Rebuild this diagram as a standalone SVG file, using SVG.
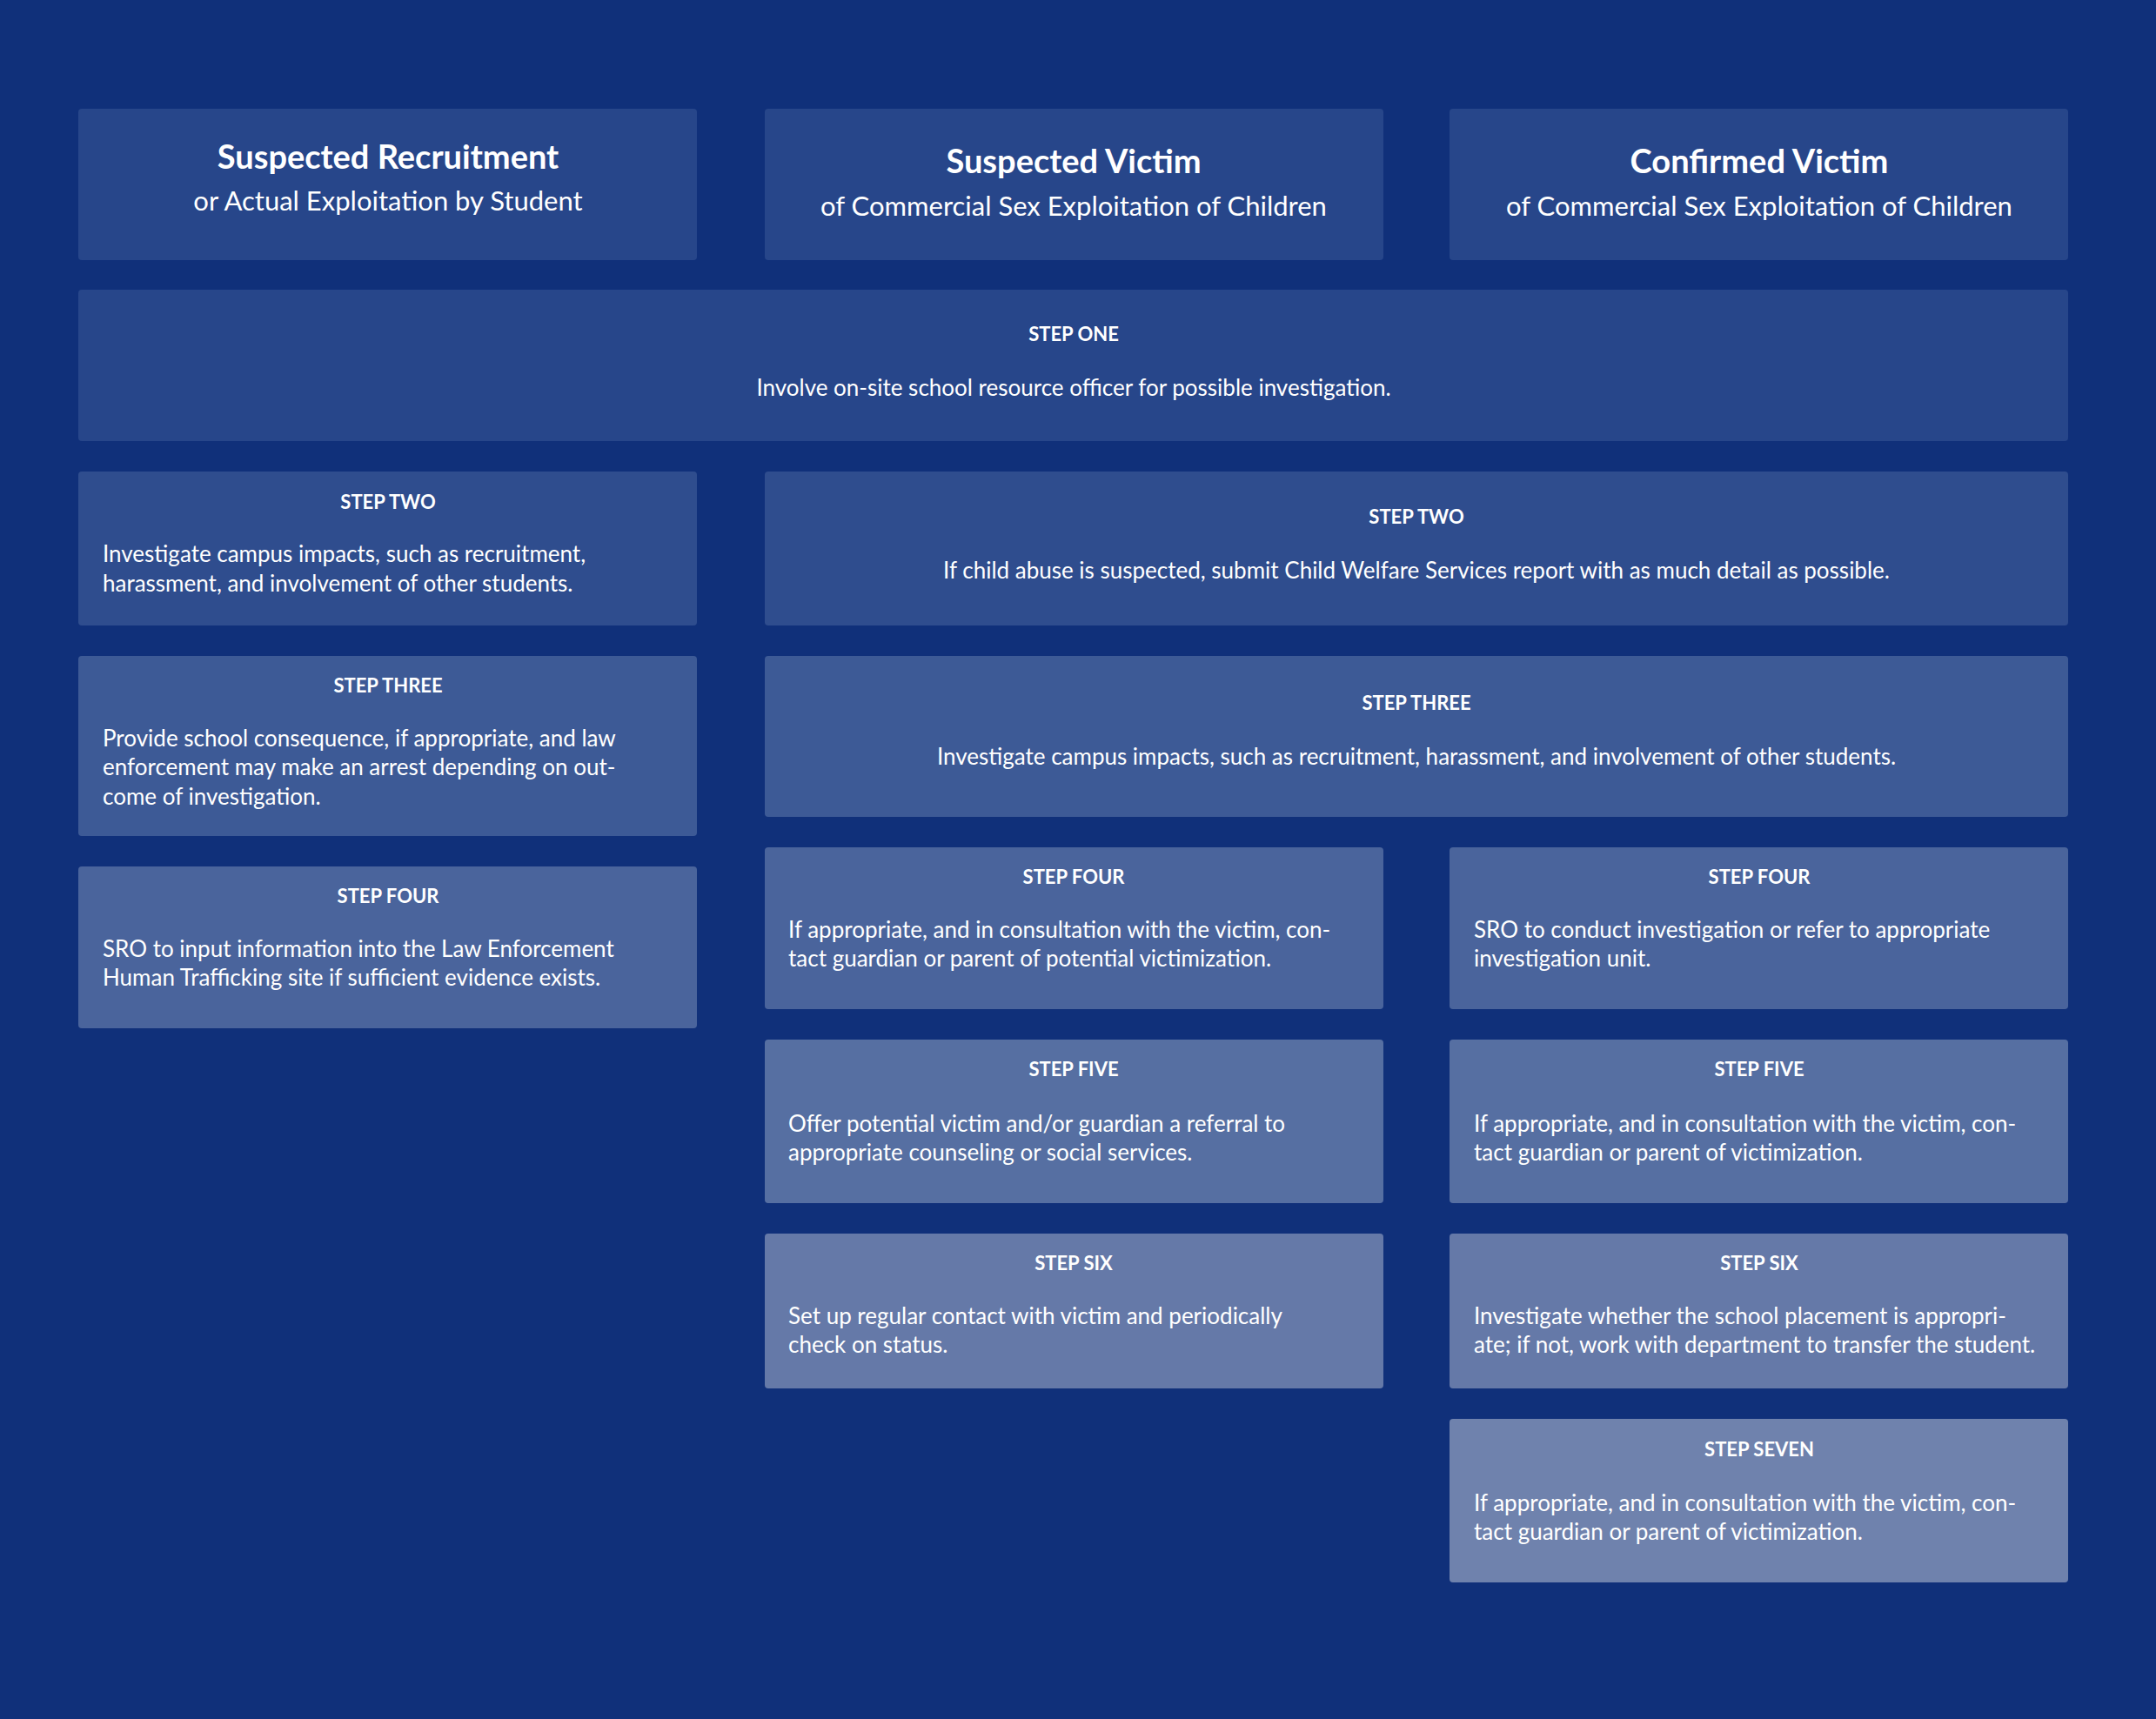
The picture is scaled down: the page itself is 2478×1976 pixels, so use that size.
<svg xmlns="http://www.w3.org/2000/svg" width="2478" height="1976" viewBox="0 0 2478 1976">
<style>
text{font-family:"Lato","Liberation Sans",sans-serif;fill:#fff}
.t{font-size:38px;font-weight:bold;text-anchor:middle}
.s{font-size:31px;text-anchor:middle}
.l{font-size:22px;font-weight:bold;text-anchor:middle}
.b{font-size:26px}
.c{text-anchor:middle}
.h{fill:#27468a}.r2{fill:#2f4d8e}.r3{fill:#3d5a96}.r4{fill:#4a649c}.r5{fill:#566fa2}.r6{fill:#6579a8}.r7{fill:#6f82ad}
</style>
<rect width="2478" height="1976" fill="#10307a"/>
<g id="hdr1"><rect class="h" x="90" y="125" width="711" height="174" rx="4"/><text class="t" x="446" y="194">Suspected Recruitment</text><text class="s" x="446" y="242">or Actual Exploitation by Student</text></g>
<g id="hdr2"><rect class="h" x="879" y="125" width="711" height="174" rx="4"/><text class="t" x="1234" y="199">Suspected Victim</text><text class="s" x="1234" y="248">of Commercial Sex Exploitation of Children</text></g>
<g id="hdr3"><rect class="h" x="1666" y="125" width="711" height="174" rx="4"/><text class="t" x="2022" y="199">Confirmed Victim</text><text class="s" x="2022" y="248">of Commercial Sex Exploitation of Children</text></g>
<g id="step1"><rect class="h" x="90" y="333" width="2287" height="174" rx="4"/><text class="l" x="1234" y="392">STEP ONE</text><text class="b c" x="1234" y="455">Involve on-site school resource officer for possible investigation.</text></g>
<g id="a2"><rect class="r2" x="90" y="542" width="711" height="177" rx="4"/><text class="l" x="446" y="585">STEP TWO</text><text class="b" x="118" y="646">Investigate campus impacts, such as recruitment,</text><text class="b" x="118" y="680">harassment, and involvement of other students.</text></g>
<g id="bc2"><rect class="r2" x="879" y="542" width="1498" height="177" rx="4"/><text class="l" x="1628" y="602">STEP TWO</text><text class="b c" x="1628" y="665">If child abuse is suspected, submit Child Welfare Services report with as much detail as possible.</text></g>
<g id="a3"><rect class="r3" x="90" y="754" width="711" height="207" rx="4"/><text class="l" x="446" y="796">STEP THREE</text><text class="b" x="118" y="858">Provide school consequence, if appropriate, and law</text><text class="b" x="118" y="891">enforcement may make an arrest depending on out-</text><text class="b" x="118" y="925">come of investigation.</text></g>
<g id="bc3"><rect class="r3" x="879" y="754" width="1498" height="185" rx="4"/><text class="l" x="1628" y="816">STEP THREE</text><text class="b c" x="1628" y="879">Investigate campus impacts, such as recruitment, harassment, and involvement of other students.</text></g>
<g id="a4"><rect class="r4" x="90" y="996" width="711" height="186" rx="4"/><text class="l" x="446" y="1038">STEP FOUR</text><text class="b" x="118" y="1100">SRO to input information into the Law Enforcement</text><text class="b" x="118" y="1133">Human Trafficking site if sufficient evidence exists.</text></g>
<g id="b4"><rect class="r4" x="879" y="974" width="711" height="186" rx="4"/><text class="l" x="1234" y="1016">STEP FOUR</text><text class="b" x="906" y="1078">If appropriate, and in consultation with the victim, con-</text><text class="b" x="906" y="1111">tact guardian or parent of potential victimization.</text></g>
<g id="c4"><rect class="r4" x="1666" y="974" width="711" height="186" rx="4"/><text class="l" x="2022" y="1016">STEP FOUR</text><text class="b" x="1694" y="1078">SRO to conduct investigation or refer to appropriate</text><text class="b" x="1694" y="1111">investigation unit.</text></g>
<g id="b5"><rect class="r5" x="879" y="1195" width="711" height="188" rx="4"/><text class="l" x="1234" y="1237">STEP FIVE</text><text class="b" x="906" y="1301">Offer potential victim and/or guardian a referral to</text><text class="b" x="906" y="1334">appropriate counseling or social services.</text></g>
<g id="c5"><rect class="r5" x="1666" y="1195" width="711" height="188" rx="4"/><text class="l" x="2022" y="1237">STEP FIVE</text><text class="b" x="1694" y="1301">If appropriate, and in consultation with the victim, con-</text><text class="b" x="1694" y="1334">tact guardian or parent of victimization.</text></g>
<g id="b6"><rect class="r6" x="879" y="1418" width="711" height="178" rx="4"/><text class="l" x="1234" y="1460">STEP SIX</text><text class="b" x="906" y="1522">Set up regular contact with victim and periodically</text><text class="b" x="906" y="1555">check on status.</text></g>
<g id="c6"><rect class="r6" x="1666" y="1418" width="711" height="178" rx="4"/><text class="l" x="2022" y="1460">STEP SIX</text><text class="b" x="1694" y="1522">Investigate whether the school placement is appropri-</text><text class="b" x="1694" y="1555">ate; if not, work with department to transfer the student.</text></g>
<g id="c7"><rect class="r7" x="1666" y="1631" width="711" height="188" rx="4"/><text class="l" x="2022" y="1674">STEP SEVEN</text><text class="b" x="1694" y="1737">If appropriate, and in consultation with the victim, con-</text><text class="b" x="1694" y="1770">tact guardian or parent of victimization.</text></g>
<g id="connectors"/>
</svg>
